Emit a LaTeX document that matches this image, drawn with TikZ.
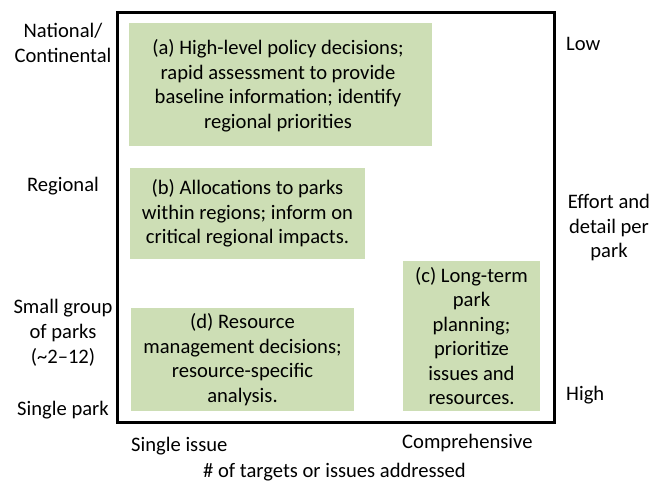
\documentclass[tikz,border=0pt]{standalone}
\usepackage{fontspec}
\setmainfont{Carlito}
\definecolor{boxgreen}{RGB}{205,222,181}
\begin{document}
\begin{tikzpicture}[x=1pt,y=-1pt,
  txt/.style={font=\fontsize{20.6}{24.5}\selectfont, inner sep=0pt, align=center},
  panel/.style={fill=boxgreen, draw=none, inner sep=0pt, align=center,
    font=\fontsize{20.6}{24.5}\selectfont},
  frame/.style={draw=black, line width=3pt}]
\useasboundingbox (0,0) rectangle (654,481);

% outer frame
\draw[frame] (117.5,12.5) rectangle (554,422);

% green panels
\node[panel, minimum width=303pt, minimum height=123pt] (pa) at (280.5,84.5) {};
\node[txt] (ta) at (278,85.5)
  {(a) High-level policy decisions;\\ rapid assessment to provide\\ baseline information; identify\\ regional priorities};
\node[panel, minimum width=235pt, minimum height=91pt] (pb) at (247.5,213.5)
  {(b) Allocations to parks\\ within regions; inform on\\ critical regional impacts.};
\node[panel, minimum width=223pt, minimum height=103pt] (pd) at (242.5,359.5)
  {(d) Resource\\ management decisions;\\ resource-specific\\ analysis.};
\node[panel, minimum width=137pt, minimum height=150pt] (pc) at (471.5,336)
  {(c) Long-term\\ park\\ planning;\\ prioritize\\ issues and\\ resources.};

% vertical axis labels (scale)
\node[txt, anchor=base] (nat) at (63,38) {National/};
\node[txt, anchor=base] (cont) at (63,63) {Continental};
\node[txt, anchor=base] (reg) at (63,192) {Regional};
\node[txt, anchor=base] (sg1) at (63,314) {Small group};
\node[txt, anchor=base] (sg2) at (63,338.5) {of parks};
\node[txt, anchor=base] (sg3) at (63,363) {(\char"7E 2--12)};
\node[txt, anchor=base] (sp) at (63,415) {Single park};

% right-hand labels (effort)
\node[txt, anchor=base west] (low) at (566,51) {Low};
\node[txt, anchor=base] (ef1) at (609,209) {Effort and};
\node[txt, anchor=base] (ef2) at (609,233.5) {detail per};
\node[txt, anchor=base] (ef3) at (609,258) {park};
\node[txt, anchor=base west] (high) at (566,400) {High};

% horizontal axis labels
\node[txt, anchor=base west] (single) at (131,451) {Single issue};
\node[txt, anchor=base west] (comp) at (402,448) {Comprehensive};
\node[txt, anchor=base] (xlab) at (334.5,477) {\# of targets or issues addressed};
\end{tikzpicture}
\end{document}
